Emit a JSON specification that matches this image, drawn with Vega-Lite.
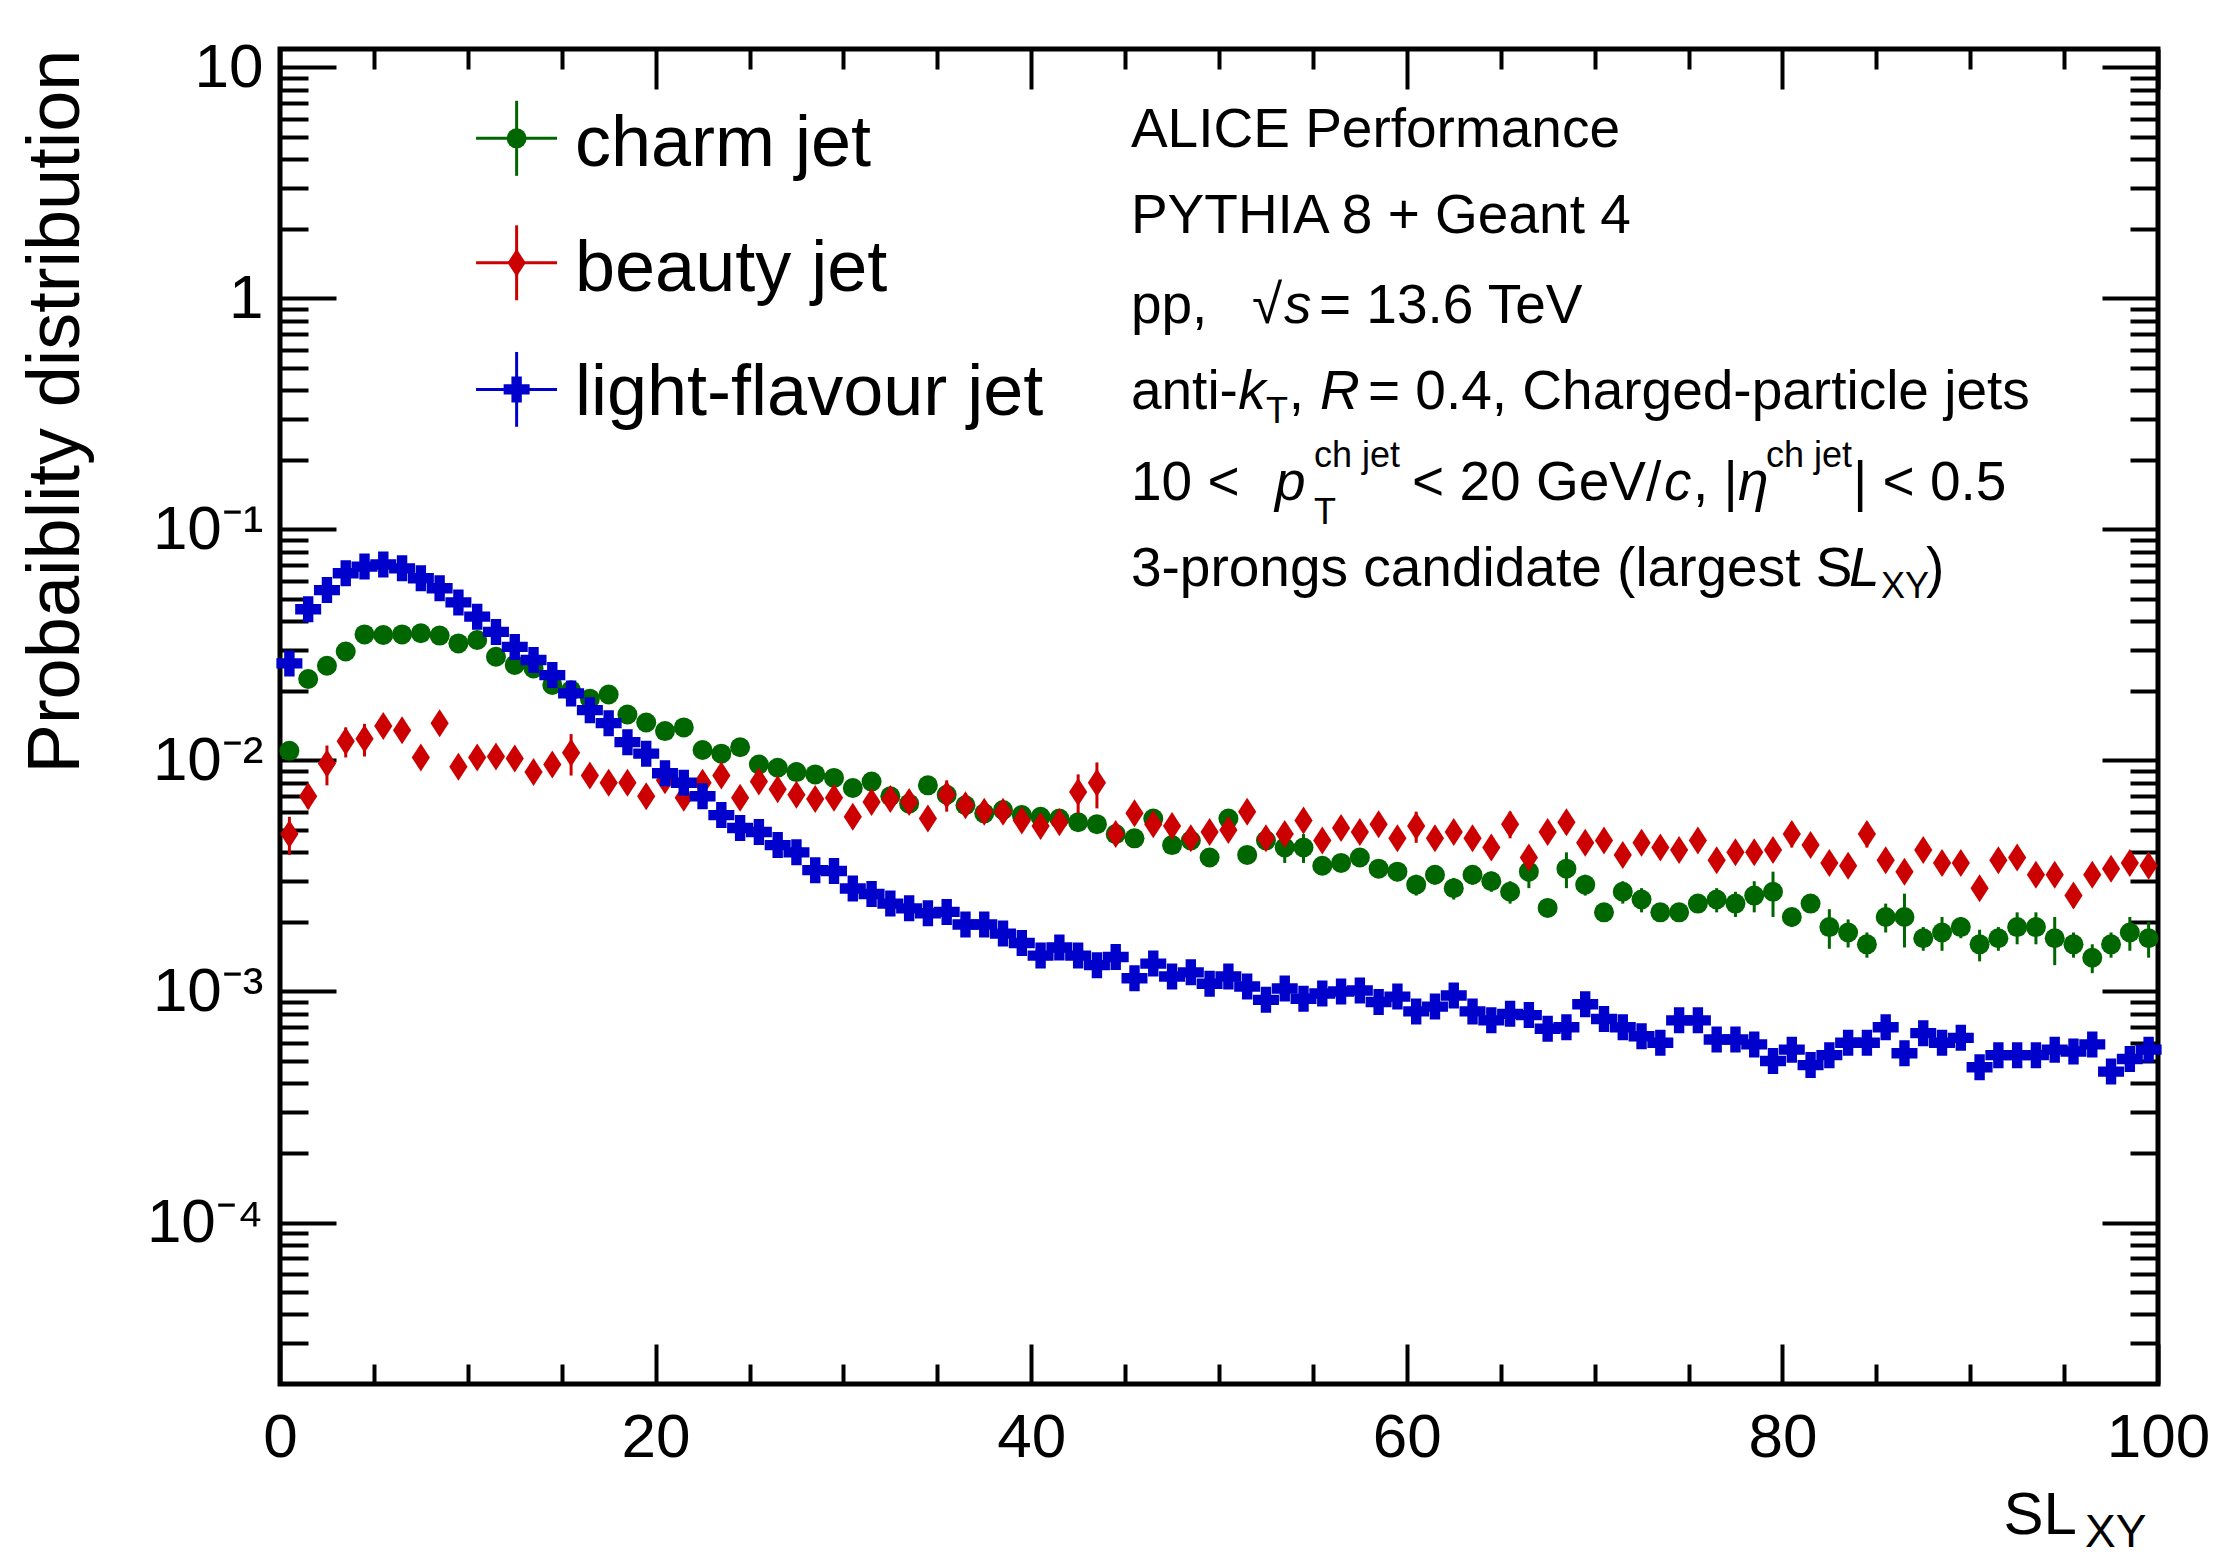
{
"$schema": "https://vega.github.io/schema/vega-lite/v6.json",
"width": 1878, "height": 1335,
"autosize": {"type": "none"},
"padding": {"left": 280, "top": 49, "right": 56, "bottom": 180},
"background": "white",
"config": {
  "view": {"stroke": "black", "strokeWidth": 5},
  "font": "Liberation Sans",
  "axis": {"labelFont": "Liberation Sans", "titleFont": "Liberation Sans", "labelColor": "black", "titleColor": "black", "tickColor": "black", "titleFontWeight": "normal", "grid": false, "domain": false, "zindex": 1}
},
"datasets": {
"charm": [
{"x":0.5,"v":0.0110,"e":0.0005},{"x":1.5,"v":0.0225,"e":0.0008},{"x":2.5,"v":0.0257,"e":0.0009},{"x":3.5,"v":0.0296,"e":0.0010},{"x":4.5,"v":0.0351,"e":0.0011},
{"x":5.5,"v":0.0349,"e":0.0011},{"x":6.5,"v":0.0351,"e":0.0011},{"x":7.5,"v":0.0355,"e":0.0011},{"x":8.5,"v":0.0347,"e":0.0011},{"x":9.5,"v":0.0321,"e":0.0010},
{"x":10.5,"v":0.0332,"e":0.0010},{"x":11.5,"v":0.0281,"e":0.0009},{"x":12.5,"v":0.0259,"e":0.0009},{"x":13.5,"v":0.0250,"e":0.0009},{"x":14.5,"v":0.0212,"e":0.0008},
{"x":15.5,"v":0.0201,"e":0.0008},{"x":16.5,"v":0.0185,"e":0.0007},{"x":17.5,"v":0.0193,"e":0.0007},{"x":18.5,"v":0.0158,"e":0.0006},{"x":19.5,"v":0.0146,"e":0.0006},
{"x":20.5,"v":0.0134,"e":0.0006},{"x":21.5,"v":0.0139,"e":0.0006},{"x":22.5,"v":0.0111,"e":0.0005},{"x":23.5,"v":0.0107,"e":0.0005},{"x":24.5,"v":0.0114,"e":0.0005},
{"x":25.5,"v":0.0096,"e":0.0005},{"x":26.5,"v":0.0093,"e":0.0005},{"x":27.5,"v":0.0089,"e":0.0005},{"x":28.5,"v":0.0087,"e":0.0005},{"x":29.5,"v":0.0084,"e":0.0005},
{"x":30.5,"v":0.0076,"e":0.0004},{"x":31.5,"v":0.0081,"e":0.0004},{"x":32.5,"v":0.0070,"e":0.0004},{"x":33.5,"v":0.0065,"e":0.0004},{"x":34.5,"v":0.0078,"e":0.0004},
{"x":35.5,"v":0.0071,"e":0.0004},{"x":36.5,"v":0.0064,"e":0.0004},{"x":37.5,"v":0.0059,"e":0.0004},{"x":38.5,"v":0.0061,"e":0.0004},{"x":39.5,"v":0.0058,"e":0.0004},
{"x":40.5,"v":0.0057,"e":0.0004},{"x":41.5,"v":0.0056,"e":0.0004},{"x":42.5,"v":0.0054,"e":0.0004},{"x":43.5,"v":0.0053,"e":0.0004},{"x":44.5,"v":0.0048,"e":0.0004},
{"x":45.5,"v":0.0046,"e":0.0004},{"x":46.5,"v":0.0056,"e":0.0004},{"x":47.5,"v":0.0043,"e":0.0003},{"x":48.5,"v":0.0045,"e":0.0003},{"x":49.5,"v":0.0038,"e":0.0003},
{"x":50.5,"v":0.0056,"e":0.0004},{"x":51.5,"v":0.0039,"e":0.0003},{"x":52.5,"v":0.0045,"e":0.0003},{"x":53.5,"v":0.0042,"e":0.0006},{"x":54.5,"v":0.0042,"e":0.0006},
{"x":55.5,"v":0.0035,"e":0.0003},{"x":56.5,"v":0.0036,"e":0.0003},{"x":57.5,"v":0.0038,"e":0.0003},{"x":58.5,"v":0.0034,"e":0.0003},{"x":59.5,"v":0.0033,"e":0.0003},
{"x":60.5,"v":0.0029,"e":0.0003},{"x":61.5,"v":0.0032,"e":0.0003},{"x":62.5,"v":0.0028,"e":0.0003},{"x":63.5,"v":0.0032,"e":0.0003},{"x":64.5,"v":0.0030,"e":0.0003},
{"x":65.5,"v":0.0027,"e":0.0003},{"x":66.5,"v":0.0033,"e":0.0005},{"x":67.5,"v":0.0023,"e":0.0002},{"x":68.5,"v":0.0034,"e":0.0006},{"x":69.5,"v":0.0029,"e":0.0003},
{"x":70.5,"v":0.0022,"e":0.0002},{"x":71.5,"v":0.0027,"e":0.0003},{"x":72.5,"v":0.0025,"e":0.0003},{"x":73.5,"v":0.0022,"e":0.0002},{"x":74.5,"v":0.0022,"e":0.0002},
{"x":75.5,"v":0.0024,"e":0.0002},{"x":76.5,"v":0.0025,"e":0.0003},{"x":77.5,"v":0.0024,"e":0.0003},{"x":78.5,"v":0.0026,"e":0.0004},{"x":79.5,"v":0.0027,"e":0.0006},
{"x":80.5,"v":0.0021,"e":0.0002},{"x":81.5,"v":0.0024,"e":0.0002},{"x":82.5,"v":0.0019,"e":0.00037},{"x":83.5,"v":0.0018,"e":0.00025},{"x":84.5,"v":0.0016,"e":0.0002},
{"x":85.5,"v":0.0021,"e":0.0003},{"x":86.5,"v":0.0021,"e":0.00055},{"x":87.5,"v":0.0017,"e":0.0002},{"x":88.5,"v":0.0018,"e":0.0003},{"x":89.5,"v":0.0019,"e":0.0002},
{"x":90.5,"v":0.0016,"e":0.00025},{"x":91.5,"v":0.0017,"e":0.0002},{"x":92.5,"v":0.0019,"e":0.0003},{"x":93.5,"v":0.0019,"e":0.0003},{"x":94.5,"v":0.0017,"e":0.0004},
{"x":95.5,"v":0.0016,"e":0.0002},{"x":96.5,"v":0.0014,"e":0.0002},{"x":97.5,"v":0.0016,"e":0.0002},{"x":98.5,"v":0.0018,"e":0.0003},{"x":99.5,"v":0.0017,"e":0.0003}
],
"beauty": [
{"x":0.5,"v":0.0048,"e":0.0009},{"x":1.5,"v":0.0070,"e":0.0008},{"x":2.5,"v":0.0097,"e":0.0019},{"x":3.5,"v":0.0121,"e":0.0018},{"x":4.5,"v":0.0124,"e":0.0020},
{"x":5.5,"v":0.0141,"e":0.0013},{"x":6.5,"v":0.0135,"e":0.0012},{"x":7.5,"v":0.0103,"e":0.0009},{"x":8.5,"v":0.0145,"e":0.0012},{"x":9.5,"v":0.0094,"e":0.0009},
{"x":10.5,"v":0.0103,"e":0.0009},{"x":11.5,"v":0.0104,"e":0.0010},{"x":12.5,"v":0.0102,"e":0.0010},{"x":13.5,"v":0.0089,"e":0.0008},{"x":14.5,"v":0.0096,"e":0.0009},
{"x":15.5,"v":0.0108,"e":0.0022},{"x":16.5,"v":0.0086,"e":0.0008},{"x":17.5,"v":0.0080,"e":0.0008},{"x":18.5,"v":0.0080,"e":0.0008},{"x":19.5,"v":0.0070,"e":0.0007},
{"x":20.5,"v":0.0082,"e":0.0007},{"x":21.5,"v":0.0069,"e":0.0007},{"x":22.5,"v":0.0080,"e":0.0007},{"x":23.5,"v":0.0086,"e":0.0007},{"x":24.5,"v":0.0069,"e":0.0007},
{"x":25.5,"v":0.0081,"e":0.0007},{"x":26.5,"v":0.0075,"e":0.0007},{"x":27.5,"v":0.0071,"e":0.0007},{"x":28.5,"v":0.0068,"e":0.0007},{"x":29.5,"v":0.0069,"e":0.0007},
{"x":30.5,"v":0.0057,"e":0.0006},{"x":31.5,"v":0.0066,"e":0.0006},{"x":32.5,"v":0.0068,"e":0.0006},{"x":33.5,"v":0.0066,"e":0.0006},{"x":34.5,"v":0.0056,"e":0.0006},
{"x":35.5,"v":0.0071,"e":0.0011},{"x":36.5,"v":0.0064,"e":0.0006},{"x":37.5,"v":0.0060,"e":0.0006},{"x":38.5,"v":0.0060,"e":0.0006},{"x":39.5,"v":0.0055,"e":0.0005},
{"x":40.5,"v":0.0052,"e":0.0005},{"x":41.5,"v":0.0054,"e":0.0005},{"x":42.5,"v":0.0073,"e":0.0014},{"x":43.5,"v":0.0080,"e":0.0018},{"x":44.5,"v":0.0048,"e":0.0005},
{"x":45.5,"v":0.0059,"e":0.0005},{"x":46.5,"v":0.0053,"e":0.0005},{"x":47.5,"v":0.0052,"e":0.0005},{"x":48.5,"v":0.0046,"e":0.0005},{"x":49.5,"v":0.0049,"e":0.0005},
{"x":50.5,"v":0.0050,"e":0.0005},{"x":51.5,"v":0.0060,"e":0.0005},{"x":52.5,"v":0.0046,"e":0.0005},{"x":53.5,"v":0.0048,"e":0.0005},{"x":54.5,"v":0.0055,"e":0.0006},
{"x":55.5,"v":0.0045,"e":0.0004},{"x":56.5,"v":0.0051,"e":0.0005},{"x":57.5,"v":0.0049,"e":0.0005},{"x":58.5,"v":0.0053,"e":0.0005},{"x":59.5,"v":0.0046,"e":0.0004},
{"x":60.5,"v":0.0052,"e":0.0008},{"x":61.5,"v":0.0046,"e":0.0004},{"x":62.5,"v":0.0049,"e":0.0005},{"x":63.5,"v":0.0046,"e":0.0004},{"x":64.5,"v":0.0042,"e":0.0004},
{"x":65.5,"v":0.0053,"e":0.0007},{"x":66.5,"v":0.0038,"e":0.0004},{"x":67.5,"v":0.0049,"e":0.0005},{"x":68.5,"v":0.0054,"e":0.0006},{"x":69.5,"v":0.0044,"e":0.0004},
{"x":70.5,"v":0.0045,"e":0.0004},{"x":71.5,"v":0.0039,"e":0.0004},{"x":72.5,"v":0.0044,"e":0.0004},{"x":73.5,"v":0.0042,"e":0.0004},{"x":74.5,"v":0.0041,"e":0.0004},
{"x":75.5,"v":0.0045,"e":0.0004},{"x":76.5,"v":0.0037,"e":0.0004},{"x":77.5,"v":0.0040,"e":0.0004},{"x":78.5,"v":0.0040,"e":0.0004},{"x":79.5,"v":0.0041,"e":0.0004},
{"x":80.5,"v":0.0048,"e":0.0006},{"x":81.5,"v":0.0043,"e":0.0004},{"x":82.5,"v":0.0036,"e":0.0004},{"x":83.5,"v":0.0035,"e":0.0003},{"x":84.5,"v":0.0048,"e":0.0006},
{"x":85.5,"v":0.0037,"e":0.0004},{"x":86.5,"v":0.0033,"e":0.0003},{"x":87.5,"v":0.0041,"e":0.0004},{"x":88.5,"v":0.0036,"e":0.0004},{"x":89.5,"v":0.0036,"e":0.0003},
{"x":90.5,"v":0.0028,"e":0.0003},{"x":91.5,"v":0.0037,"e":0.0004},{"x":92.5,"v":0.0038,"e":0.0004},{"x":93.5,"v":0.0032,"e":0.0003},{"x":94.5,"v":0.0032,"e":0.0003},
{"x":95.5,"v":0.0026,"e":0.0003},{"x":96.5,"v":0.0032,"e":0.0003},{"x":97.5,"v":0.0034,"e":0.0003},{"x":98.5,"v":0.0036,"e":0.0003},{"x":99.5,"v":0.0035,"e":0.0003}
],
"light": [
{"x":0.5,"v":0.0263,"e":0.0008},{"x":1.5,"v":0.0451,"e":0.0012},{"x":2.5,"v":0.0546,"e":0.0013},{"x":3.5,"v":0.0646,"e":0.0014},{"x":4.5,"v":0.0690,"e":0.0014},
{"x":5.5,"v":0.0705,"e":0.0014},{"x":6.5,"v":0.0678,"e":0.0014},{"x":7.5,"v":0.0614,"e":0.0013},{"x":8.5,"v":0.0556,"e":0.0012},{"x":9.5,"v":0.0483,"e":0.0011},
{"x":10.5,"v":0.0419,"e":0.0010},{"x":11.5,"v":0.0360,"e":0.0009},{"x":12.5,"v":0.0310,"e":0.0009},{"x":13.5,"v":0.0272,"e":0.0008},{"x":14.5,"v":0.0234,"e":0.0007},
{"x":15.5,"v":0.0195,"e":0.0007},{"x":16.5,"v":0.0165,"e":0.0006},{"x":17.5,"v":0.0145,"e":0.0006},{"x":18.5,"v":0.0120,"e":0.0005},{"x":19.5,"v":0.0107,"e":0.0005},
{"x":20.5,"v":0.0088,"e":0.0004},{"x":21.5,"v":0.0080,"e":0.0004},{"x":22.5,"v":0.0070,"e":0.0003},{"x":23.5,"v":0.0058,"e":0.0003},{"x":24.5,"v":0.0051,"e":0.0003},
{"x":25.5,"v":0.0049,"e":0.0003},{"x":26.5,"v":0.0043,"e":0.0002},{"x":27.5,"v":0.0040,"e":0.0002},{"x":28.5,"v":0.00335,"e":0.0002},{"x":29.5,"v":0.00332,"e":0.0002},
{"x":30.5,"v":0.00279,"e":0.00015},{"x":31.5,"v":0.00264,"e":0.00015},{"x":32.5,"v":0.00240,"e":0.00014},{"x":33.5,"v":0.00229,"e":0.00013},{"x":34.5,"v":0.00218,"e":0.00013},
{"x":35.5,"v":0.00221,"e":0.00013},{"x":36.5,"v":0.00195,"e":0.00012},{"x":37.5,"v":0.00195,"e":0.00012},{"x":38.5,"v":0.00178,"e":0.00011},{"x":39.5,"v":0.00162,"e":0.0001},
{"x":40.5,"v":0.00143,"e":0.0001},{"x":41.5,"v":0.00155,"e":0.0001},{"x":42.5,"v":0.00143,"e":0.0001},{"x":43.5,"v":0.00130,"e":0.00009},{"x":44.5,"v":0.00141,"e":0.0001},
{"x":45.5,"v":0.00114,"e":0.00008},{"x":46.5,"v":0.00132,"e":0.00009},{"x":47.5,"v":0.00116,"e":0.00008},{"x":48.5,"v":0.00121,"e":0.00008},{"x":49.5,"v":0.00108,"e":0.00008},
{"x":50.5,"v":0.00116,"e":0.00008},{"x":51.5,"v":0.00105,"e":0.00008},{"x":52.5,"v":0.00092,"e":0.00007},{"x":53.5,"v":0.00103,"e":0.00007},{"x":54.5,"v":0.00093,"e":0.00007},
{"x":55.5,"v":0.00098,"e":0.00007},{"x":56.5,"v":0.00100,"e":0.00007},{"x":57.5,"v":0.00101,"e":0.00007},{"x":58.5,"v":0.00090,"e":0.00007},{"x":59.5,"v":0.00095,"e":0.00007},
{"x":60.5,"v":0.00082,"e":0.00006},{"x":61.5,"v":0.00086,"e":0.00006},{"x":62.5,"v":0.00096,"e":0.00007},{"x":63.5,"v":0.00082,"e":0.00006},{"x":64.5,"v":0.00075,"e":0.00006},
{"x":65.5,"v":0.00080,"e":0.00006},{"x":66.5,"v":0.00079,"e":0.00006},{"x":67.5,"v":0.00069,"e":0.00006},{"x":68.5,"v":0.00070,"e":0.00006},{"x":69.5,"v":0.00088,"e":0.00006},
{"x":70.5,"v":0.00076,"e":0.00006},{"x":71.5,"v":0.00070,"e":0.00006},{"x":72.5,"v":0.00064,"e":0.00005},{"x":73.5,"v":0.00060,"e":0.00005},{"x":74.5,"v":0.00075,"e":0.00006},
{"x":75.5,"v":0.00075,"e":0.00006},{"x":76.5,"v":0.00062,"e":0.00005},{"x":77.5,"v":0.00062,"e":0.00005},{"x":78.5,"v":0.00059,"e":0.00005},{"x":79.5,"v":0.00050,"e":0.00005},
{"x":80.5,"v":0.00056,"e":0.00005},{"x":81.5,"v":0.00048,"e":0.00005},{"x":82.5,"v":0.00053,"e":0.00005},{"x":83.5,"v":0.00060,"e":0.00005},{"x":84.5,"v":0.00060,"e":0.00005},
{"x":85.5,"v":0.00070,"e":0.00006},{"x":86.5,"v":0.00054,"e":0.00005},{"x":87.5,"v":0.00066,"e":0.00005},{"x":88.5,"v":0.00060,"e":0.00005},{"x":89.5,"v":0.00063,"e":0.00006},
{"x":90.5,"v":0.00047,"e":0.00005},{"x":91.5,"v":0.00053,"e":0.00005},{"x":92.5,"v":0.00053,"e":0.00005},{"x":93.5,"v":0.00053,"e":0.00005},{"x":94.5,"v":0.00056,"e":0.00005},
{"x":95.5,"v":0.00055,"e":0.00005},{"x":96.5,"v":0.00059,"e":0.00005},{"x":97.5,"v":0.00045,"e":0.00005},{"x":98.5,"v":0.00051,"e":0.00005},{"x":99.5,"v":0.00056,"e":0.00005}
],
"legend": [
{"s":"charm","x":12.6,"xa":10.44,"xb":14.75,"y":4.927,"ya":3.39,"yb":7.16,"tx":15.71,"ty":3.727,"t":"charm jet"},
{"s":"beauty","x":12.6,"xa":10.44,"xb":14.75,"y":1.425,"ya":0.981,"yb":2.07,"tx":15.71,"ty":1.077,"t":"beauty jet"},
{"s":"light","x":12.6,"xa":10.44,"xb":14.75,"y":0.4036,"ya":0.278,"yb":0.586,"tx":15.71,"ty":0.3115,"t":"light-flavour jet"}
],
"notes": [
{"x":45.31,"y":4.505,"t":"ALICE Performance"},
{"x":45.31,"y":1.911,"t":"PYTHIA 8 + Geant 4"},
{"x":45.31,"y":0.7794,"t":"pp,"},
{"x":51.76,"y":0.7794,"t":"√"},
{"x":55.32,"y":0.7794,"t":"= 13.6 TeV"},
{"x":45.31,"y":0.3307,"t":"anti-"},
{"x":53.72,"y":0.3307,"t":","},
{"x":57.93,"y":0.3307,"t":"= 0.4, Charged-particle jets"},
{"x":45.31,"y":0.1335,"t":"10 <"},
{"x":60.28,"y":0.1335,"t":"< 20 GeV/"},
{"x":75.24,"y":0.1335,"t":", |"},
{"x":83.76,"y":0.1335,"t":"| < 0.5"},
{"x":45.31,"y":0.05664,"t":"3-prongs candidate (largest S"},
{"x":87.65,"y":0.05664,"t":")"}
],
"notesIt": [
{"x":53.46,"y":0.7794,"t":"s"},
{"x":51.02,"y":0.3307,"t":"k"},
{"x":55.38,"y":0.3307,"t":"R"},
{"x":52.98,"y":0.1335,"t":"p"},
{"x":73.70,"y":0.1335,"t":"c"},
{"x":77.64,"y":0.1335,"t":"η"},
{"x":83.55,"y":0.05664,"t":"L"}
],
"notesSmall": [
{"x":52.50,"y":0.2876,"t":"T"},
{"x":55.06,"y":0.1855,"t":"ch jet"},
{"x":55.06,"y":0.1051,"t":"T"},
{"x":79.13,"y":0.1855,"t":"ch jet"},
{"x":85.25,"y":0.05028,"t":"XY"}
],
"xsub": [
{"x":96.11,"y":0.00000396,"t":"XY"}
]
},
"resolve": {"axis": {"x": "independent", "y": "independent"}},
"layer": [
{"data": {"name": "charm"},
 "mark": {"type": "errorbar", "color": "#006600", "thickness": 3, "ticks": false},
 "encoding": {"x": {"field": "x", "type": "quantitative", "scale": {"domain": [0,100], "nice": false, "zero": false}, "axis": null},
  "y": {"field": "v", "type": "quantitative", "scale": {"type": "log", "domain": [0.00002, 12], "nice": false}, "axis": null},
  "yError": {"field": "e"}}},
{"data": {"name": "charm"},
 "mark": {"type": "point", "shape": "circle", "filled": true, "size": 400, "color": "#006600", "opacity": 1, "strokeWidth": 0},
 "encoding": {
  "x": {"field": "x", "type": "quantitative", "scale": {"domain": [0,100], "nice": false, "zero": false},
   "axis": {"orient": "top", "values": [0,5,10,15,20,25,30,35,40,45,50,55,60,65,70,75,80,85,90,95,100], "labels": false, "title": null,
     "tickSize": {"condition": {"test": "datum.value % 20 === 0", "value": -40}, "value": -20}, "tickWidth": 4}},
  "y": {"field": "v", "type": "quantitative", "scale": {"type": "log", "domain": [0.00002, 12], "nice": false},
   "axis": {"orient": "right", "values": [0.00003,0.00004,0.00005,0.00006,0.00007,0.00008,0.00009,0.0001,0.0002,0.0003,0.0004,0.0005,0.0006,0.0007,0.0008,0.0009,0.001,0.002,0.003,0.004,0.005,0.006,0.007,0.008,0.009,0.01,0.02,0.03,0.04,0.05,0.06,0.07,0.08,0.09,0.1,0.2,0.3,0.4,0.5,0.6,0.7,0.8,0.9,1,2,3,4,5,6,7,8,9,10],
     "labels": false, "title": null,
     "tickSize": {"condition": {"test": "indexof([10,1,0.1,0.01,0.001,0.0001], datum.value) >= 0", "value": -56}, "value": -28}, "tickWidth": 4}}}},
{"data": {"name": "beauty"},
 "mark": {"type": "errorbar", "color": "#cc0000", "thickness": 3, "ticks": false},
 "encoding": {"x": {"field": "x", "type": "quantitative", "scale": {"domain": [0,100], "nice": false, "zero": false}, "axis": null},
  "y": {"field": "v", "type": "quantitative", "scale": {"type": "log", "domain": [0.00002, 12], "nice": false}, "axis": null},
  "yError": {"field": "e"}}},
{"data": {"name": "beauty"},
 "mark": {"type": "point", "shape": "M0,-1L0.65,0L0,1L-0.65,0Z", "filled": true, "size": 784, "color": "#cc0000", "opacity": 1, "strokeWidth": 0},
 "encoding": {"x": {"field": "x", "type": "quantitative", "scale": {"domain": [0,100], "nice": false, "zero": false}, "axis": null},
  "y": {"field": "v", "type": "quantitative", "scale": {"type": "log", "domain": [0.00002, 12], "nice": false}, "axis": null}}},
{"data": {"name": "light"},
 "mark": {"type": "errorbar", "color": "#0000cc", "thickness": 3, "ticks": false},
 "encoding": {"x": {"field": "x", "type": "quantitative", "scale": {"domain": [0,100], "nice": false, "zero": false}, "axis": null},
  "y": {"field": "v", "type": "quantitative", "scale": {"type": "log", "domain": [0.00002, 12], "nice": false}, "axis": null},
  "yError": {"field": "e"}}},
{"data": {"name": "light"},
 "mark": {"type": "point", "shape": "cross", "filled": true, "size": 676, "color": "#0000cc", "opacity": 1, "strokeWidth": 0},
 "encoding": {
  "x": {"field": "x", "type": "quantitative", "scale": {"domain": [0,100], "nice": false, "zero": false},
   "axis": {"orient": "bottom", "values": [0,5,10,15,20,25,30,35,40,45,50,55,60,65,70,75,80,85,90,95,100],
     "labelExpr": "datum.value % 20 === 0 ? datum.label : ''", "labelFontSize": 62, "labelPadding": 63, "labelFlush": false, "labelOverlap": false,
     "tickSize": {"condition": {"test": "datum.value % 20 === 0", "value": -40}, "value": -20}, "tickWidth": 4,
     "title": "SL", "titleFontSize": 60, "titleX": 1723, "titleY": 149, "titleAlign": "left", "titleBaseline": "alphabetic", "titleAngle": 0}},
  "y": {"field": "v", "type": "quantitative", "scale": {"type": "log", "domain": [0.00002, 12], "nice": false},
   "axis": {"orient": "left", "values": [0.00003,0.00004,0.00005,0.00006,0.00007,0.00008,0.00009,0.0001,0.0002,0.0003,0.0004,0.0005,0.0006,0.0007,0.0008,0.0009,0.001,0.002,0.003,0.004,0.005,0.006,0.007,0.008,0.009,0.01,0.02,0.03,0.04,0.05,0.06,0.07,0.08,0.09,0.1,0.2,0.3,0.4,0.5,0.6,0.7,0.8,0.9,1,2,3,4,5,6,7,8,9,10],
     "labelExpr": "datum.value === 10 ? '10' : datum.value === 1 ? '1' : datum.value === 0.1 ? '10⁻¹' : datum.value === 0.01 ? '10⁻²' : datum.value === 0.001 ? '10⁻³' : datum.value === 0.0001 ? '10⁻⁴' : ''",
     "labelFontSize": 62, "labelPadding": 73, "labelFlush": false, "labelOverlap": false,
     "tickSize": {"condition": {"test": "indexof([10,1,0.1,0.01,0.001,0.0001], datum.value) >= 0", "value": -56}, "value": -28}, "tickWidth": 4,
     "title": "Probaiblity distribution", "titleFontSize": 74, "titleX": -202, "titleY": 0, "titleAlign": "right", "titleBaseline": "alphabetic", "titleAngle": -90}}}},
{"data": {"name": "legend"},
 "mark": {"type": "rule", "strokeWidth": 3},
 "encoding": {"x": {"field": "xa", "type": "quantitative", "scale": {"domain": [0,100], "nice": false, "zero": false}, "axis": null},
  "x2": {"field": "xb"},
  "y": {"field": "y", "type": "quantitative", "scale": {"type": "log", "domain": [0.00002, 12], "nice": false}, "axis": null},
  "color": {"field": "s", "type": "nominal", "scale": {"domain": ["charm","beauty","light"], "range": ["#006600","#cc0000","#0000cc"]}, "legend": null}}},
{"data": {"name": "legend"},
 "mark": {"type": "rule", "strokeWidth": 3},
 "encoding": {"x": {"field": "x", "type": "quantitative", "scale": {"domain": [0,100], "nice": false, "zero": false}, "axis": null},
  "y": {"field": "ya", "type": "quantitative", "scale": {"type": "log", "domain": [0.00002, 12], "nice": false}, "axis": null},
  "y2": {"field": "yb"},
  "color": {"field": "s", "type": "nominal", "scale": {"domain": ["charm","beauty","light"], "range": ["#006600","#cc0000","#0000cc"]}, "legend": null}}},
{"data": {"name": "legend"},
 "transform": [{"filter": "datum.s === 'charm'"}],
 "mark": {"type": "point", "shape": "circle", "filled": true, "size": 400, "color": "#006600", "opacity": 1, "strokeWidth": 0},
 "encoding": {"x": {"field": "x", "type": "quantitative", "scale": {"domain": [0,100], "nice": false, "zero": false}, "axis": null},
  "y": {"field": "y", "type": "quantitative", "scale": {"type": "log", "domain": [0.00002, 12], "nice": false}, "axis": null}}},
{"data": {"name": "legend"},
 "transform": [{"filter": "datum.s === 'beauty'"}],
 "mark": {"type": "point", "shape": "M0,-1L0.65,0L0,1L-0.65,0Z", "filled": true, "size": 784, "color": "#cc0000", "opacity": 1, "strokeWidth": 0},
 "encoding": {"x": {"field": "x", "type": "quantitative", "scale": {"domain": [0,100], "nice": false, "zero": false}, "axis": null},
  "y": {"field": "y", "type": "quantitative", "scale": {"type": "log", "domain": [0.00002, 12], "nice": false}, "axis": null}}},
{"data": {"name": "legend"},
 "transform": [{"filter": "datum.s === 'light'"}],
 "mark": {"type": "point", "shape": "cross", "filled": true, "size": 676, "color": "#0000cc", "opacity": 1, "strokeWidth": 0},
 "encoding": {"x": {"field": "x", "type": "quantitative", "scale": {"domain": [0,100], "nice": false, "zero": false}, "axis": null},
  "y": {"field": "y", "type": "quantitative", "scale": {"type": "log", "domain": [0.00002, 12], "nice": false}, "axis": null}}},
{"data": {"name": "legend"},
 "mark": {"type": "text", "align": "left", "baseline": "alphabetic", "font": "Liberation Sans", "fontSize": 72, "color": "black"},
 "encoding": {"x": {"field": "tx", "type": "quantitative", "scale": {"domain": [0,100], "nice": false, "zero": false}, "axis": null},
  "y": {"field": "ty", "type": "quantitative", "scale": {"type": "log", "domain": [0.00002, 12], "nice": false}, "axis": null},
  "text": {"field": "t"}}},
{"data": {"name": "notes"},
 "mark": {"type": "text", "align": "left", "baseline": "alphabetic", "font": "Liberation Sans", "fontSize": 55, "color": "black"},
 "encoding": {"x": {"field": "x", "type": "quantitative", "scale": {"domain": [0,100], "nice": false, "zero": false}, "axis": null},
  "y": {"field": "y", "type": "quantitative", "scale": {"type": "log", "domain": [0.00002, 12], "nice": false}, "axis": null},
  "text": {"field": "t"}}},
{"data": {"name": "notesIt"},
 "mark": {"type": "text", "align": "left", "baseline": "alphabetic", "font": "Liberation Sans", "fontSize": 55, "fontStyle": "italic", "color": "black"},
 "encoding": {"x": {"field": "x", "type": "quantitative", "scale": {"domain": [0,100], "nice": false, "zero": false}, "axis": null},
  "y": {"field": "y", "type": "quantitative", "scale": {"type": "log", "domain": [0.00002, 12], "nice": false}, "axis": null},
  "text": {"field": "t"}}},
{"data": {"name": "notesSmall"},
 "mark": {"type": "text", "align": "left", "baseline": "alphabetic", "font": "Liberation Sans", "fontSize": 36, "color": "black"},
 "encoding": {"x": {"field": "x", "type": "quantitative", "scale": {"domain": [0,100], "nice": false, "zero": false}, "axis": null},
  "y": {"field": "y", "type": "quantitative", "scale": {"type": "log", "domain": [0.00002, 12], "nice": false}, "axis": null},
  "text": {"field": "t"}}},
{"data": {"name": "xsub"},
 "mark": {"type": "text", "align": "left", "baseline": "alphabetic", "font": "Liberation Sans", "fontSize": 46, "color": "black"},
 "encoding": {"x": {"field": "x", "type": "quantitative", "scale": {"domain": [0,100], "nice": false, "zero": false}, "axis": null},
  "y": {"field": "y", "type": "quantitative", "scale": {"type": "log", "domain": [0.00002, 12], "nice": false}, "axis": null},
  "text": {"field": "t"}}}
]
}
